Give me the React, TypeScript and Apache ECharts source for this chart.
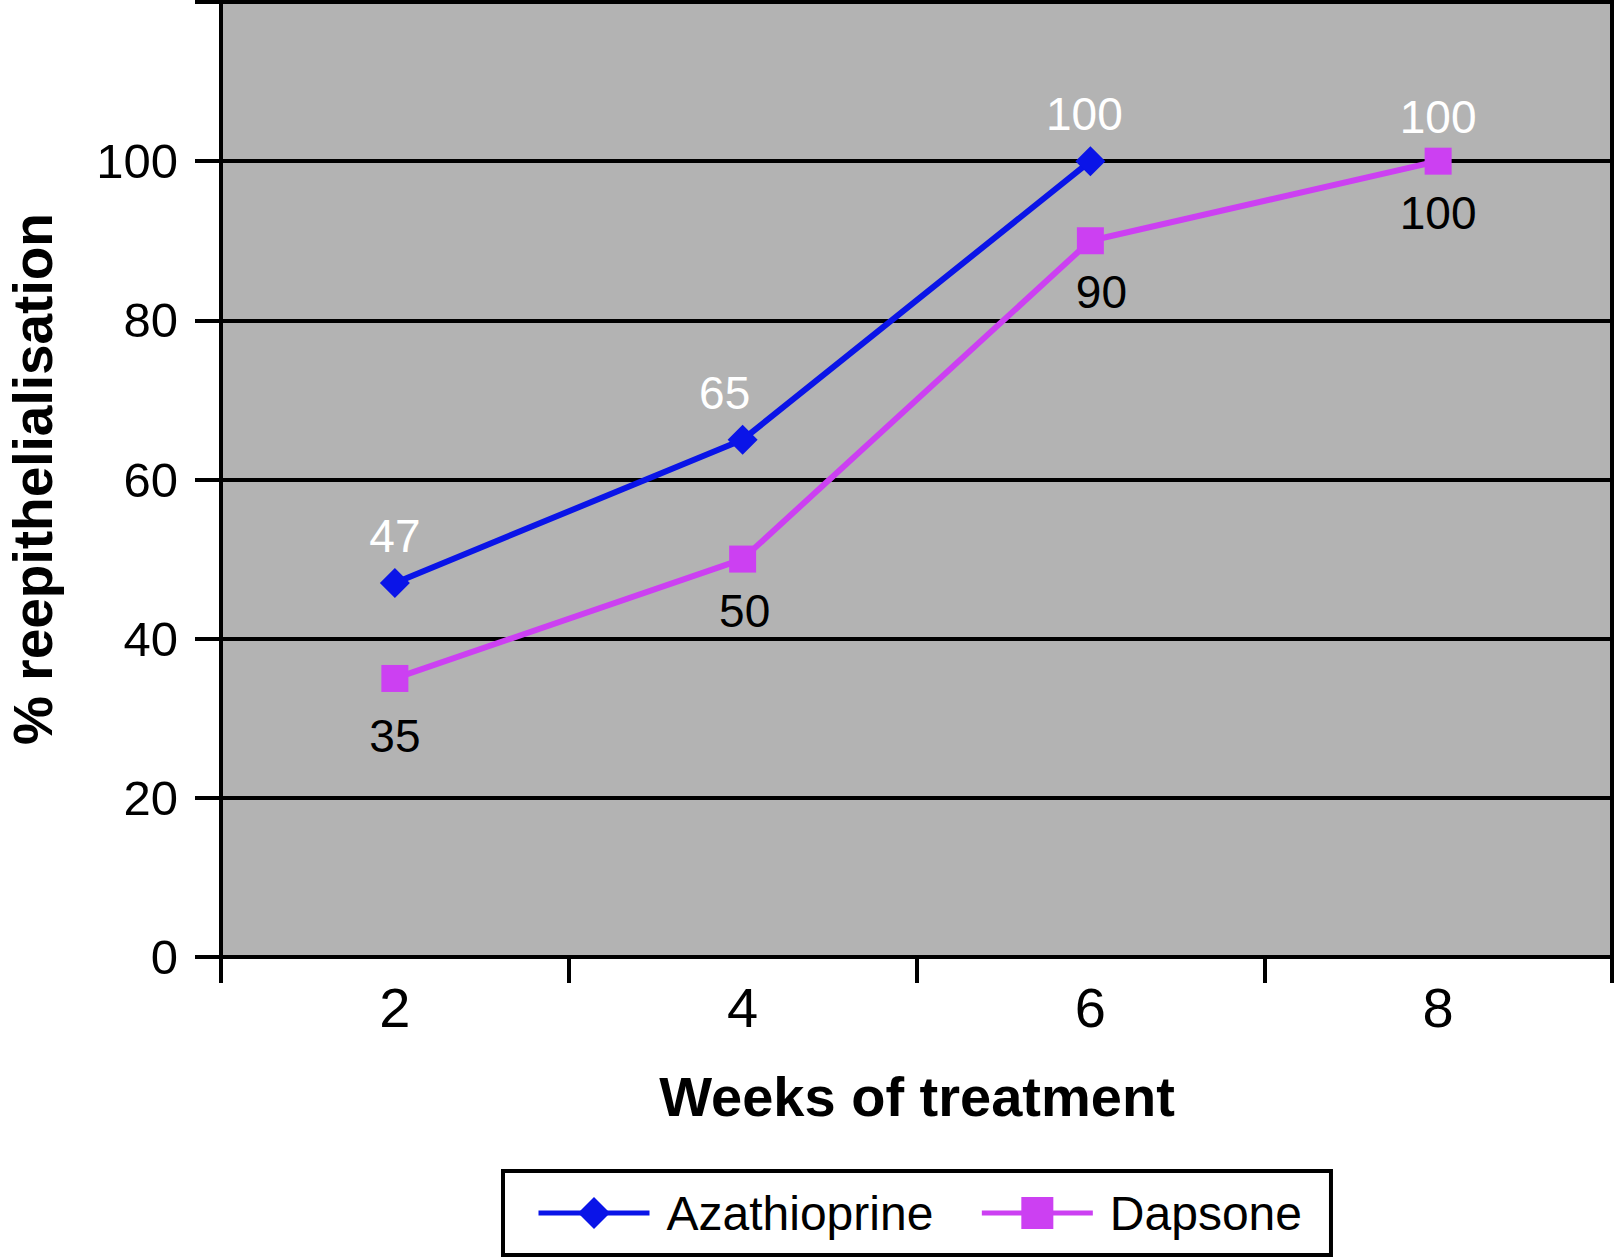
import React, { useEffect, useRef } from "react";
import * as echarts from "echarts";

// ---- data ----
const weeks = ["2", "4", "6", "8"];
const azathioprine = [47, 65, 100, null];
// week-8 value of Azathioprine is shown only as a label (no marker, no line)
const azathioprineWeek8Label = [null, null, null, 100];
const dapsone = [35, 50, 90, 100];
const seriesNames = ["Azathioprine", "Dapsone"];
const yMin = 0;
const yMax = 120;
const yInterval = 20;
const xTitle = "Weeks of treatment";
const yTitle = "% reepithelialisation";

const FONT = '"Liberation Sans", Arial, Helvetica, sans-serif';
const BLUE = "#0a14e8";
const MAGENTA = "#cc40f2";

export default function App() {
  const ref = useRef<HTMLDivElement>(null);

  useEffect(() => {
    if (!ref.current) return;
    const chart = echarts.init(ref.current, undefined, { renderer: "svg" });

    const azaLabelDx = [0, -18, -6, 0];
    const dapLabelDx = [0, 2, 11, 0];
    const dapLabelDy = [6, 0, 0, 0];

    const option: any = {
      animation: false,
      backgroundColor: "#ffffff",
      textStyle: { fontFamily: FONT },
      grid: {
        left: 221,
        right: 3,
        top: 2,
        bottom: 300,
        show: true,
        backgroundColor: "#b3b3b3",
        borderColor: "#000",
        borderWidth: 4,
        outerBoundsMode: "none",
        containLabel: false,
      },
      xAxis: {
        type: "category",
        data: weeks,
        boundaryGap: true,
        axisLine: { show: true, lineStyle: { color: "#000", width: 4 } },
        axisTick: {
          show: true,
          length: 26,
          alignWithLabel: false,
          lineStyle: { color: "#000", width: 4 },
        },
        axisLabel: {
          fontSize: 56,
          lineHeight: 56,
          color: "#000",
          margin: 22,
          fontFamily: FONT,
        },
        splitLine: { show: false },
      },
      yAxis: {
        type: "value",
        min: yMin,
        max: yMax,
        interval: yInterval,
        axisLine: { show: true, lineStyle: { color: "#000", width: 4 } },
        axisTick: { show: true, length: 26, lineStyle: { color: "#000", width: 4 } },
        splitLine: { show: true, lineStyle: { color: "#000", width: 4 } },
        axisLabel: {
          fontSize: 49,
          color: "#000",
          margin: 43,
          fontFamily: FONT,
          formatter: (v: number) => (v === yMax ? "" : String(v)),
        },
      },
      legend: {
        data: [
          { name: seriesNames[0], lineStyle: { width: 5, color: BLUE } },
          { name: seriesNames[1], lineStyle: { width: 5, color: MAGENTA } },
        ],
        left: 503,
        top: 1171,
        orient: "horizontal",
        padding: [18, 29, 18, 33],
        itemGap: 46,
        itemWidth: 111,
        itemHeight: 40,
        borderColor: "#000",
        borderWidth: 4,
        backgroundColor: "#fff",
        textStyle: {
          fontSize: 48,
          lineHeight: 48,
          color: "#000",
          fontFamily: FONT,
          padding: [0, 0, 0, 12],
        },
      },
      graphic: [
        {
          type: "text",
          x: 917,
          y: 1096,
          style: {
            text: xTitle,
            fontSize: 56,
            lineHeight: 56,
            fontWeight: "bold",
            fontFamily: FONT,
            fill: "#000",
            align: "center",
            verticalAlign: "middle",
          },
        },
        {
          type: "text",
          x: 33,
          y: 479,
          rotation: Math.PI / 2,
          style: {
            text: yTitle,
            fontSize: 55,
            lineHeight: 55,
            fontWeight: "bold",
            fontFamily: FONT,
            fill: "#000",
            align: "center",
            verticalAlign: "middle",
          },
        },
      ],
      series: [
        {
          name: "Azathioprine",
          type: "line",
          data: azathioprine.map((v, i) => ({
            value: v,
            label: { offset: [azaLabelDx[i], 0] },
          })),
          symbol: "diamond",
          symbolSize: 30,
          showAllSymbol: true,
          connectNulls: false,
          lineStyle: { color: BLUE, width: 6 },
          itemStyle: { color: BLUE },
          label: {
            show: true,
            position: "top",
            distance: 9,
            color: "#fff",
            fontSize: 46,
            lineHeight: 46,
            fontFamily: FONT,
          },
          z: 3,
        },
        {
          name: "Azathioprine (week 8)",
          type: "scatter",
          data: azathioprineWeek8Label,
          symbolSize: 1,
          itemStyle: { color: "#b3b3b3", opacity: 1 },
          label: {
            show: true,
            position: "top",
            distance: 21,
            color: "#ffffff",
            opacity: 1,
            fontSize: 46,
            lineHeight: 46,
            fontFamily: FONT,
          },
          emphasis: { disabled: true },
          z: 1,
        },
        {
          name: "Dapsone",
          type: "line",
          data: dapsone.map((v, i) => ({
            value: v,
            label: { offset: [dapLabelDx[i], dapLabelDy[i]] },
          })),
          symbol: "rect",
          symbolSize: 27,
          showAllSymbol: true,
          lineStyle: { color: MAGENTA, width: 6 },
          itemStyle: { color: MAGENTA },
          label: {
            show: true,
            position: "bottom",
            distance: 15,
            color: "#000",
            fontSize: 46,
            lineHeight: 46,
            fontFamily: FONT,
          },
          z: 3,
        },
      ],
    };

    chart.setOption(option);
    return () => {
      chart.dispose();
    };
  }, []);

  return (
    <div
      ref={ref}
      style={{ position: "absolute", left: 0, top: 0, width: 1615, height: 1257 }}
    />
  );
}
